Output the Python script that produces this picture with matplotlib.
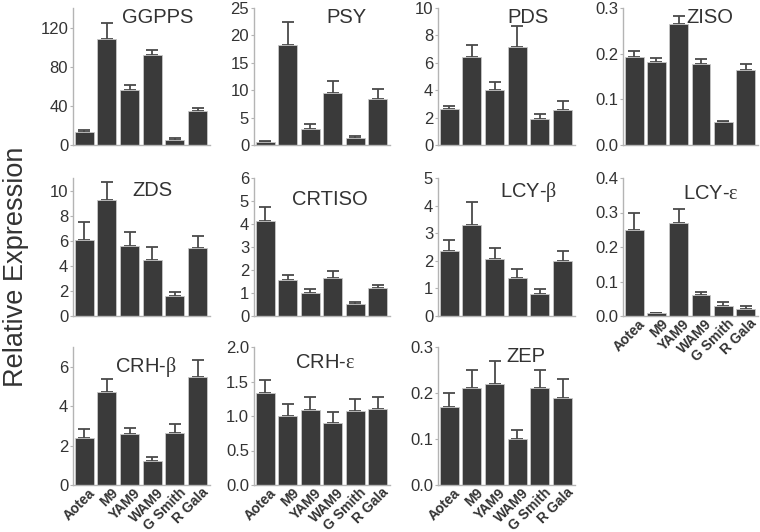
import matplotlib
matplotlib.use("Agg")
import matplotlib.pyplot as plt
import matplotlib.transforms as mtransforms
import numpy as np

plt.rcParams['font.family'] = ['Liberation Sans', 'DejaVu Sans']
plt.rcParams['mathtext.fontset'] = 'custom'
plt.rcParams['mathtext.rm'] = 'Liberation Serif'

cultivars = ["Aotea", "M9", "YAM9", "WAM9", "G Smith", "R Gala"]

ggpps = [13, 108, 56, 92, 5.5, 35]
ggpps_err = [2, 17, 5, 5, 1.3, 3]
psy = [0.55, 18.3, 2.9, 9.5, 1.2, 8.4]
psy_err = [0.25, 4.2, 0.9, 2.1, 0.4, 1.8]
pds = [2.66, 6.4, 4.05, 7.17, 1.87, 2.57]
pds_err = [0.17, 0.92, 0.58, 1.53, 0.42, 0.67]
ziso = [0.193, 0.181, 0.265, 0.178, 0.050, 0.165]
ziso_err = [0.013, 0.009, 0.017, 0.010, 0.002, 0.012]
zds = [6.05, 9.26, 5.6, 4.48, 1.56, 5.46]
zds_err = [1.43, 1.4, 1.08, 1.04, 0.35, 0.93]
crtiso = [4.15, 1.55, 0.98, 1.65, 0.53, 1.2]
crtiso_err = [0.58, 0.23, 0.19, 0.3, 0.07, 0.16]
lcyb = [2.35, 3.3, 2.05, 1.36, 0.8, 1.99]
lcyb_err = [0.4, 0.82, 0.41, 0.35, 0.18, 0.35]
lcye = [0.25, 0.01, 0.27, 0.06, 0.029, 0.02]
lcye_err = [0.05, 0.0, 0.04, 0.011, 0.011, 0.01]
crhb = [2.36, 4.74, 2.6, 1.2, 2.64, 5.48]
crhb_err = [0.46, 0.63, 0.27, 0.21, 0.44, 0.88]
crhe = [1.33, 1.0, 1.09, 0.9, 1.07, 1.1]
crhe_err = [0.19, 0.17, 0.18, 0.16, 0.17, 0.17]
zep = [0.17, 0.21, 0.22, 0.10, 0.21, 0.19]
zep_err = [0.03, 0.04, 0.05, 0.02, 0.04, 0.04]

W, H = 760, 532
fig = plt.figure(figsize=(W / 100, H / 100), dpi=100)

cols = [(73, 210), (254, 390), (438, 575), (623, 758)]
rows = [(8, 145), (178, 316), (347, 485)]

# (title, values, errors, ylim, yticks, tick format, row, col, title_x, title_y, show_xlabels)
panels = [
    ("GGPPS", ggpps, ggpps_err, 140, [0, 40, 80, 120], None, 0, 0, 0.62, 1.0, False),
    ("PSY", psy, psy_err, 25, [0, 5, 10, 15, 20, 25], None, 0, 1, 0.68, 1.0, False),
    ("PDS", pds, pds_err, 10, [0, 2, 4, 6, 8, 10], None, 0, 2, 0.66, 1.0, False),
    ("ZISO", ziso, ziso_err, 0.3, [0, 0.1, 0.2, 0.3], "%.1f", 0, 3, 0.64, 1.0, False),
    ("ZDS", zds, zds_err, 11, [0, 2, 4, 6, 8, 10], None, 1, 0, 0.58, 0.98, False),
    ("CRTISO", crtiso, crtiso_err, 6, [0, 1, 2, 3, 4, 5, 6], None, 1, 1, 0.56, 0.91, False),
    (r"LCY-$\mathrm{\beta}$", lcyb, lcyb_err, 5, [0, 1, 2, 3, 4, 5], None, 1, 2, 0.66, 0.985, False),
    (r"LCY-$\mathrm{\varepsilon}$", lcye, lcye_err, 0.4, [0, 0.1, 0.2, 0.3, 0.4], "%.1f", 1, 3, 0.65, 0.96, True),
    (r"CRH-$\mathrm{\beta}$", crhb, crhb_err, 7, [0, 2, 4, 6], None, 2, 0, 0.53, 0.94, True),
    (r"CRH-$\mathrm{\varepsilon}$", crhe, crhe_err, 2.0, [0, 0.5, 1.0, 1.5, 2.0], "%.1f", 2, 1, 0.52, 0.955, True),
    ("ZEP", zep, zep_err, 0.3, [0, 0.1, 0.2, 0.3], "%.1f", 2, 2, 0.64, 1.0, True),
]

bar_color = "#3a3a3a"
spine_color = "#b4b4b4"
text_color = "#333333"
shift = mtransforms.ScaledTranslation(4 / 100, 0, fig.dpi_scale_trans)

for (title, vals, errs, ymax, yt, fmt, r, c, tx, ty, showx) in panels:
    x0, x1 = cols[c]
    y0, y1 = rows[r]
    ax = fig.add_axes([x0 / W, 1 - y1 / H, (x1 - x0) / W, (y1 - y0) / H])
    x = np.arange(len(cultivars))
    ax.bar(x, vals, width=0.84, color=bar_color, edgecolor="#c8c8c8", linewidth=0.6, zorder=2)
    ax.errorbar(x, vals, yerr=[np.zeros(len(vals)), errs], fmt="none", ecolor="#4a4a4a",
                elinewidth=1.3, capsize=4, capthick=1.3, zorder=1)
    ax.set_xlim(-0.5, 5.55)
    ax.set_ylim(0, ymax)
    ax.set_yticks(yt)
    if fmt:
        ax.set_yticklabels([fmt % v for v in yt])
    for s in ("top", "right"):
        ax.spines[s].set_visible(False)
    for s in ("left", "bottom"):
        ax.spines[s].set_color(spine_color)
        ax.spines[s].set_linewidth(1.0)
    ax.tick_params(axis="y", length=2, color=spine_color, labelsize=12, labelcolor=text_color, pad=1.5)
    ax.tick_params(axis="x", length=0, pad=0.5)
    ax.set_xticks(x)
    if showx:
        ax.set_xticklabels(cultivars, rotation=45, ha="right", va="top", rotation_mode="anchor",
                           fontsize=10, fontweight="bold", color=text_color)
        for lab in ax.get_xticklabels():
            lab.set_transform(lab.get_transform() + shift)
    else:
        ax.set_xticklabels([])
    ax.text(tx, ty, title, transform=ax.transAxes, ha="center", va="top",
            fontsize=14.5, color=text_color)

fig.text(16 / W, 1 - 267 / H, "Relative Expression", rotation=90, ha="center", va="center",
         fontsize=19.5, color=text_color)

fig.savefig("out.png", dpi=100)
